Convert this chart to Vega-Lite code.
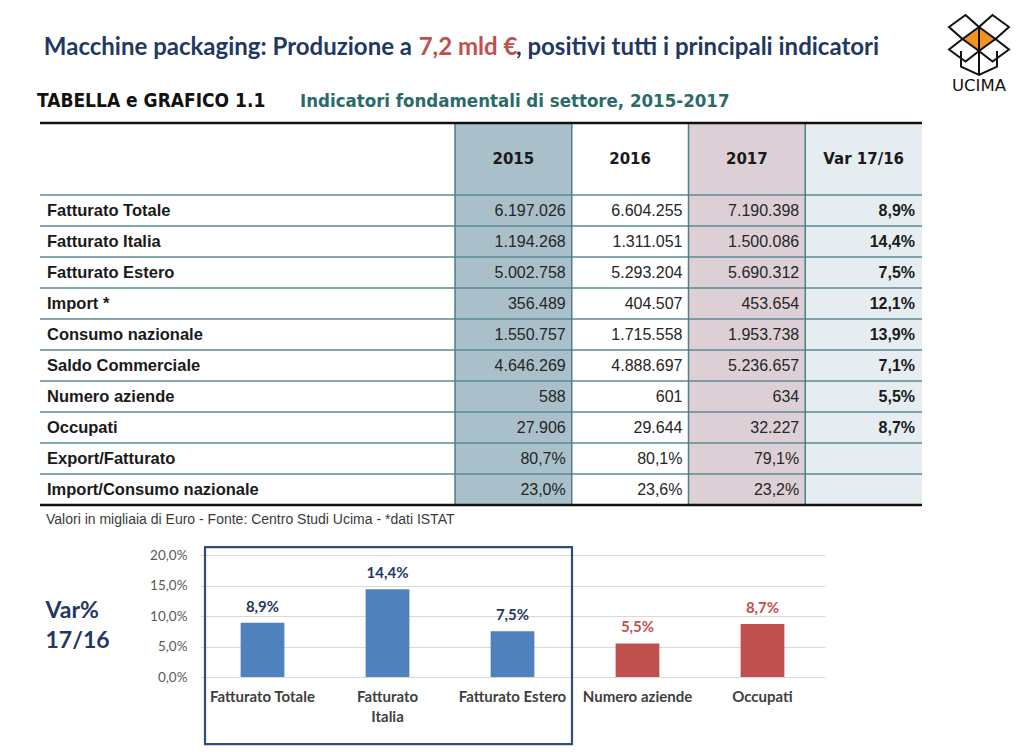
{
  "$schema": "https://vega.github.io/schema/vega-lite/v6.json",
  "width": 1024,
  "height": 752,
  "autosize": {"type": "none"},
  "padding": 0,
  "background": "white",
  "config": {
    "view": {"stroke": null},
    "locale": {"number": {"decimal": ",", "thousands": ".", "grouping": [3], "currency": ["", " €"]}}
  },
  "datasets": {
    "tabella": [
      {"indicatore": "Fatturato Totale", "2015": "6.197.026", "2016": "6.604.255", "2017": "7.190.398", "Var 17/16": "8,9%"},
      {"indicatore": "Fatturato Italia", "2015": "1.194.268", "2016": "1.311.051", "2017": "1.500.086", "Var 17/16": "14,4%"},
      {"indicatore": "Fatturato Estero", "2015": "5.002.758", "2016": "5.293.204", "2017": "5.690.312", "Var 17/16": "7,5%"},
      {"indicatore": "Import *", "2015": "356.489", "2016": "404.507", "2017": "453.654", "Var 17/16": "12,1%"},
      {"indicatore": "Consumo nazionale", "2015": "1.550.757", "2016": "1.715.558", "2017": "1.953.738", "Var 17/16": "13,9%"},
      {"indicatore": "Saldo Commerciale", "2015": "4.646.269", "2016": "4.888.697", "2017": "5.236.657", "Var 17/16": "7,1%"},
      {"indicatore": "Numero aziende", "2015": "588", "2016": "601", "2017": "634", "Var 17/16": "5,5%"},
      {"indicatore": "Occupati", "2015": "27.906", "2016": "29.644", "2017": "32.227", "Var 17/16": "8,7%"},
      {"indicatore": "Export/Fatturato", "2015": "80,7%", "2016": "80,1%", "2017": "79,1%", "Var 17/16": ""},
      {"indicatore": "Import/Consumo nazionale", "2015": "23,0%", "2016": "23,6%", "2017": "23,2%", "Var 17/16": ""}
    ],
    "colonne": [{"colonna": "2015"}, {"colonna": "2016"}, {"colonna": "2017"}, {"colonna": "Var 17/16"}],
    "grafico": [
      {"indicatore": "Fatturato Totale", "variazione": 0.089, "gruppo": "Fatturato"},
      {"indicatore": "Fatturato Italia", "variazione": 0.144, "gruppo": "Fatturato"},
      {"indicatore": "Fatturato Estero", "variazione": 0.075, "gruppo": "Fatturato"},
      {"indicatore": "Numero aziende", "variazione": 0.055, "gruppo": "Struttura"},
      {"indicatore": "Occupati", "variazione": 0.087, "gruppo": "Struttura"}
    ]
  },
  "resolve": {"scale": {"x": "independent", "y": "independent", "color": "independent", "fill": "independent"}},
  "layer": [
    {
      "data": {"name": "colonne"},
      "layer": [
        {
          "mark": {"type": "rect"},
          "encoding": {
            "x": {"field": "colonna", "type": "nominal", "axis": null, "scale": {"type": "band", "domain": ["2015", "2016", "2017", "Var 17/16"], "range": [455, 922], "paddingInner": 0, "paddingOuter": 0}},
            "y": {"datum": "intestazione", "type": "nominal", "axis": null, "scale": {"type": "band", "domain": ["intestazione"], "range": [123, 195], "paddingInner": 0, "paddingOuter": 0}},
            "fill": {"field": "colonna", "type": "nominal", "legend": null, "scale": {"domain": ["2015", "2016", "2017", "Var 17/16"], "range": ["#a9bfc9", "#ffffff", "#dcd0d6", "#e6edf0"]}}
          }
        },
        {
          "mark": {"type": "text", "font": "DejaVu Sans", "fontWeight": "bold", "fontSize": 15, "color": "#1a1a1a", "baseline": "middle"},
          "encoding": {
            "x": {"field": "colonna", "type": "nominal", "axis": null, "scale": {"type": "band", "domain": ["2015", "2016", "2017", "Var 17/16"], "range": [455, 922], "paddingInner": 0, "paddingOuter": 0}},
            "y": {"datum": "intestazione", "type": "nominal", "axis": null, "scale": {"type": "band", "domain": ["intestazione"], "range": [123, 195], "paddingInner": 0, "paddingOuter": 0}},
            "text": {"field": "colonna"}
          }
        }
      ]
    },
    {
      "data": {"name": "tabella"},
      "transform": [{"fold": ["2015", "2016", "2017", "Var 17/16"], "as": ["colonna", "valore"]}],
      "layer": [
        {
          "mark": {"type": "rect"},
          "encoding": {
            "x": {"field": "colonna", "type": "nominal", "axis": null, "scale": {"type": "band", "domain": ["2015", "2016", "2017", "Var 17/16"], "range": [455, 922], "paddingInner": 0, "paddingOuter": 0}},
            "y": {"field": "indicatore", "type": "nominal", "axis": null, "scale": {"type": "band", "domain": ["Fatturato Totale", "Fatturato Italia", "Fatturato Estero", "Import *", "Consumo nazionale", "Saldo Commerciale", "Numero aziende", "Occupati", "Export/Fatturato", "Import/Consumo nazionale"], "range": [195, 505], "paddingInner": 0, "paddingOuter": 0}},
            "fill": {"field": "colonna", "type": "nominal", "legend": null, "scale": {"domain": ["2015", "2016", "2017", "Var 17/16"], "range": ["#a9bfc9", "#ffffff", "#dcd0d6", "#e6edf0"]}}
          }
        },
        {
          "transform": [{"filter": "datum.colonna !== 'Var 17/16'"}],
          "mark": {"type": "text", "align": "right", "baseline": "middle", "dx": -6, "font": "Liberation Sans", "fontSize": 16, "color": "#262626"},
          "encoding": {
            "x": {"field": "colonna", "type": "nominal", "bandPosition": 1, "axis": null, "scale": {"type": "band", "domain": ["2015", "2016", "2017", "Var 17/16"], "range": [455, 922], "paddingInner": 0, "paddingOuter": 0}},
            "y": {"field": "indicatore", "type": "nominal", "axis": null, "scale": {"type": "band", "domain": ["Fatturato Totale", "Fatturato Italia", "Fatturato Estero", "Import *", "Consumo nazionale", "Saldo Commerciale", "Numero aziende", "Occupati", "Export/Fatturato", "Import/Consumo nazionale"], "range": [195, 505], "paddingInner": 0, "paddingOuter": 0}},
            "text": {"field": "valore"}
          }
        },
        {
          "transform": [{"filter": "datum.colonna === 'Var 17/16'"}],
          "mark": {"type": "text", "align": "right", "baseline": "middle", "dx": -7, "font": "Liberation Sans", "fontWeight": "bold", "fontSize": 16, "color": "#1a1a1a"},
          "encoding": {
            "x": {"field": "colonna", "type": "nominal", "bandPosition": 1, "axis": null, "scale": {"type": "band", "domain": ["2015", "2016", "2017", "Var 17/16"], "range": [455, 922], "paddingInner": 0, "paddingOuter": 0}},
            "y": {"field": "indicatore", "type": "nominal", "axis": null, "scale": {"type": "band", "domain": ["Fatturato Totale", "Fatturato Italia", "Fatturato Estero", "Import *", "Consumo nazionale", "Saldo Commerciale", "Numero aziende", "Occupati", "Export/Fatturato", "Import/Consumo nazionale"], "range": [195, 505], "paddingInner": 0, "paddingOuter": 0}},
            "text": {"field": "valore"}
          }
        }
      ]
    },
    {
      "data": {"name": "tabella"},
      "layer": [
        {
          "mark": {"type": "rule", "color": "#5b8993", "strokeWidth": 1.3},
          "encoding": {
            "x": {"datum": 0, "type": "quantitative", "axis": null, "scale": {"domain": [0, 1], "range": [40, 922]}},
            "x2": {"datum": 1},
            "y": {"field": "indicatore", "type": "nominal", "bandPosition": 0, "axis": null, "scale": {"type": "band", "domain": ["Fatturato Totale", "Fatturato Italia", "Fatturato Estero", "Import *", "Consumo nazionale", "Saldo Commerciale", "Numero aziende", "Occupati", "Export/Fatturato", "Import/Consumo nazionale"], "range": [195, 505], "paddingInner": 0, "paddingOuter": 0}}
          }
        },
        {
          "mark": {"type": "text", "align": "left", "baseline": "middle", "dx": 7, "font": "Liberation Sans", "fontWeight": "bold", "fontSize": 16.5, "color": "#1a1a1a"},
          "encoding": {
            "x": {"datum": 0, "type": "quantitative", "axis": null, "scale": {"domain": [0, 1], "range": [40, 922]}},
            "y": {"field": "indicatore", "type": "nominal", "axis": null, "scale": {"type": "band", "domain": ["Fatturato Totale", "Fatturato Italia", "Fatturato Estero", "Import *", "Consumo nazionale", "Saldo Commerciale", "Numero aziende", "Occupati", "Export/Fatturato", "Import/Consumo nazionale"], "range": [195, 505], "paddingInner": 0, "paddingOuter": 0}},
            "text": {"field": "indicatore"}
          }
        }
      ]
    },
    {
      "data": {"name": "colonne"},
      "mark": {"type": "rule", "color": "#4f7d88", "strokeWidth": 1.5},
      "encoding": {
        "x": {"field": "colonna", "type": "nominal", "bandPosition": 0, "axis": null, "scale": {"type": "band", "domain": ["2015", "2016", "2017", "Var 17/16"], "range": [455, 922], "paddingInner": 0, "paddingOuter": 0}},
        "y": {"datum": 0, "type": "quantitative", "axis": null, "scale": {"domain": [0, 1], "range": [123, 505]}},
        "y2": {"datum": 1}
      }
    },
    {
      "data": {"values": [{"nota": "Valori in migliaia di Euro - Fonte: Centro Studi Ucima - *dati ISTAT"}]},
      "layer": [
        {
          "mark": {"type": "rule", "color": "#111111", "strokeWidth": 2.5},
          "encoding": {
            "x": {"datum": 0, "type": "quantitative", "axis": null, "scale": {"domain": [0, 1], "range": [40, 922]}},
            "x2": {"datum": 1},
            "y": {"datum": 0, "type": "quantitative", "axis": null, "scale": {"domain": [0, 1], "range": [123, 505]}}
          }
        },
        {
          "mark": {"type": "rule", "color": "#111111", "strokeWidth": 2.5},
          "encoding": {
            "x": {"datum": 0, "type": "quantitative", "axis": null, "scale": {"domain": [0, 1], "range": [40, 922]}},
            "x2": {"datum": 1},
            "y": {"datum": 1, "type": "quantitative", "axis": null, "scale": {"domain": [0, 1], "range": [123, 505]}}
          }
        },
        {
          "mark": {"type": "text", "align": "left", "baseline": "middle", "dx": 6, "dy": 15, "font": "Liberation Sans", "fontSize": 14, "color": "#3a3a3a"},
          "encoding": {
            "x": {"datum": 0, "type": "quantitative", "axis": null, "scale": {"domain": [0, 1], "range": [40, 922]}},
            "y": {"datum": 1, "type": "quantitative", "axis": null, "scale": {"domain": [0, 1], "range": [123, 505]}},
            "text": {"field": "nota"}
          }
        }
      ]
    },
    {
      "data": {"values": [
        {"parte": "inizio", "testo": "Macchine packaging: Produzione a"},
        {"parte": "evidenza", "testo": "7,2 mld €"},
        {"parte": "fine", "testo": ", positivi tutti i principali indicatori"}
      ]},
      "layer": [
        {
          "transform": [{"filter": "datum.parte === 'inizio'"}],
          "mark": {"type": "text", "align": "right", "baseline": "middle", "font": "Lato", "fontWeight": "bold", "fontSize": 24},
          "encoding": {
            "x": {"field": "parte", "type": "nominal", "axis": null, "scale": {"type": "point", "domain": ["inizio", "evidenza", "fine"], "range": [412, 516], "padding": 0}},
            "y": {"datum": "titolo", "type": "nominal", "axis": null, "scale": {"type": "point", "domain": ["titolo"], "range": [48, 48]}},
            "color": {"field": "parte", "type": "nominal", "legend": null, "scale": {"domain": ["inizio", "evidenza", "fine"], "range": ["#1f3864", "#c0504d", "#1f3864"]}},
            "text": {"field": "testo"}
          }
        },
        {
          "transform": [{"filter": "datum.parte === 'evidenza'"}],
          "mark": {"type": "text", "align": "center", "baseline": "middle", "dx": 4, "font": "Lato", "fontWeight": "bold", "fontSize": 24},
          "encoding": {
            "x": {"field": "parte", "type": "nominal", "axis": null, "scale": {"type": "point", "domain": ["inizio", "evidenza", "fine"], "range": [412, 516], "padding": 0}},
            "y": {"datum": "titolo", "type": "nominal", "axis": null, "scale": {"type": "point", "domain": ["titolo"], "range": [48, 48]}},
            "color": {"field": "parte", "type": "nominal", "legend": null, "scale": {"domain": ["inizio", "evidenza", "fine"], "range": ["#1f3864", "#c0504d", "#1f3864"]}},
            "text": {"field": "testo"}
          }
        },
        {
          "transform": [{"filter": "datum.parte === 'fine'"}],
          "mark": {"type": "text", "align": "left", "baseline": "middle", "font": "Lato", "fontWeight": "bold", "fontSize": 24},
          "encoding": {
            "x": {"field": "parte", "type": "nominal", "axis": null, "scale": {"type": "point", "domain": ["inizio", "evidenza", "fine"], "range": [412, 516], "padding": 0}},
            "y": {"datum": "titolo", "type": "nominal", "axis": null, "scale": {"type": "point", "domain": ["titolo"], "range": [48, 48]}},
            "color": {"field": "parte", "type": "nominal", "legend": null, "scale": {"domain": ["inizio", "evidenza", "fine"], "range": ["#1f3864", "#c0504d", "#1f3864"]}},
            "text": {"field": "testo"}
          }
        }
      ]
    },
    {
      "data": {"values": [
        {"parte": "numero", "testo": "TABELLA e GRAFICO 1.1"},
        {"parte": "descrizione", "testo": "Indicatori fondamentali di settore, 2015-2017"}
      ]},
      "layer": [
        {
          "transform": [{"filter": "datum.parte === 'numero'"}],
          "mark": {"type": "text", "align": "left", "baseline": "middle", "font": "DejaVu Sans Condensed", "fontWeight": "bold", "fontSize": 19, "color": "#111111"},
          "encoding": {
            "x": {"field": "parte", "type": "nominal", "axis": null, "scale": {"type": "point", "domain": ["numero", "descrizione"], "range": [37, 300], "padding": 0}},
            "y": {"datum": "didascalia", "type": "nominal", "axis": null, "scale": {"type": "point", "domain": ["didascalia"], "range": [101, 101]}},
            "text": {"field": "testo"}
          }
        },
        {
          "transform": [{"filter": "datum.parte === 'descrizione'"}],
          "mark": {"type": "text", "align": "left", "baseline": "middle", "font": "DejaVu Sans Condensed", "fontWeight": "bold", "fontSize": 18.5, "color": "#2b6a6a"},
          "encoding": {
            "x": {"field": "parte", "type": "nominal", "axis": null, "scale": {"type": "point", "domain": ["numero", "descrizione"], "range": [37, 300], "padding": 0}},
            "y": {"datum": "didascalia", "type": "nominal", "axis": null, "scale": {"type": "point", "domain": ["didascalia"], "range": [101, 101]}},
            "text": {"field": "testo"}
          }
        }
      ]
    },
    {
      "data": {"values": [{"marchio": "UCIMA"}]},
      "layer": [
        {
          "mark": {"type": "point", "shape": "M 0 -0.6 L 0.55 -0.2 L 0 0.2 L -0.55 -0.2 Z", "size": 3600, "filled": true, "fill": "#f0931f", "strokeWidth": 0, "opacity": 1},
          "encoding": {
            "x": {"field": "marchio", "type": "nominal", "axis": null, "scale": {"type": "point", "domain": ["UCIMA"], "range": [979, 979]}},
            "y": {"datum": "simbolo", "type": "nominal", "axis": null, "scale": {"type": "point", "domain": ["simbolo", "scritta"], "range": [45, 86], "padding": 0}}
          }
        },
        {
          "mark": {"type": "point", "shape": "M -0.55 -0.2 L -1 -0.6 L -0.45 -1 L 0 -0.6 Z M 0.55 -0.2 L 1 -0.6 L 0.45 -1 L 0 -0.6 Z M -0.55 -0.2 L -1 0.15 L -0.45 0.55 L 0 0.2 Z M 0.55 -0.2 L 1 0.15 L 0.45 0.55 L 0 0.2 Z M -0.6 0.2 L -0.6 0.72 L 0 1 L 0.6 0.72 L 0.6 0.2 M 0 -0.6 L 0 1", "size": 3600, "filled": false, "stroke": "#111111", "strokeWidth": 2, "opacity": 1},
          "encoding": {
            "x": {"field": "marchio", "type": "nominal", "axis": null, "scale": {"type": "point", "domain": ["UCIMA"], "range": [979, 979]}},
            "y": {"datum": "simbolo", "type": "nominal", "axis": null, "scale": {"type": "point", "domain": ["simbolo", "scritta"], "range": [45, 86], "padding": 0}}
          }
        },
        {
          "mark": {"type": "text", "align": "center", "baseline": "middle", "font": "DejaVu Sans", "fontSize": 16.5, "color": "#111111"},
          "encoding": {
            "x": {"field": "marchio", "type": "nominal", "axis": null, "scale": {"type": "point", "domain": ["UCIMA"], "range": [979, 979]}},
            "y": {"datum": "scritta", "type": "nominal", "axis": null, "scale": {"type": "point", "domain": ["simbolo", "scritta"], "range": [45, 86], "padding": 0}},
            "text": {"field": "marchio"}
          }
        }
      ]
    },
    {
      "data": {"name": "grafico"},
      "layer": [
        {
          "mark": {"type": "bar"},
          "encoding": {
            "x": {
              "field": "indicatore", "type": "nominal", "sort": null,
              "scale": {"type": "band", "domain": ["Fatturato Totale", "Fatturato Italia", "Fatturato Estero", "Numero aziende", "Occupati"], "range": [200, 825], "paddingInner": 0.65, "paddingOuter": 0.325},
              "axis": {
                "orient": "bottom", "offset": -75, "domain": false, "ticks": false, "tickSize": 0, "title": null,
                "labelAngle": 0, "labelPadding": 12, "labelFont": "Lato", "labelFontSize": 15, "labelFontWeight": "bold", "labelColor": "#404040",
                "labelLimit": 0, "labelLineHeight": 20,
                "labelExpr": "datum.label == 'Fatturato Italia' ? ['Fatturato', 'Italia'] : datum.label"
              }
            },
            "y": {
              "field": "variazione", "type": "quantitative",
              "scale": {"domain": [0, 0.2], "range": [677, 555], "nice": false, "zero": true},
              "axis": {
                "orient": "left", "offset": -200, "values": [0, 0.05, 0.1, 0.15, 0.2], "format": ".1%",
                "domain": false, "ticks": false, "tickSize": 0, "grid": true, "gridColor": "#d9d9d9", "gridWidth": 1,
                "labelFont": "Lato", "labelFontSize": 13.5, "labelColor": "#595959", "labelPadding": 13,
                "title": ["Var%", "17/16"], "titleAngle": 0, "titleFont": "Lato", "titleFontSize": 23, "titleFontWeight": "bold",
                "titleColor": "#1f3864", "titleAlign": "left", "titleBaseline": "middle", "titleX": -155, "titleY": 610, "titleLineHeight": 30
              }
            },
            "fill": {"field": "gruppo", "type": "nominal", "legend": null, "scale": {"domain": ["Fatturato", "Struttura"], "range": ["#4f81bd", "#c0504d"]}}
          }
        },
        {
          "mark": {"type": "text", "baseline": "alphabetic", "dy": -11, "font": "Lato", "fontWeight": "bold", "fontSize": 15},
          "encoding": {
            "x": {"field": "indicatore", "type": "nominal", "sort": null},
            "y": {"field": "variazione", "type": "quantitative"},
            "text": {"field": "variazione", "type": "quantitative", "format": ".1%"},
            "color": {"field": "gruppo", "type": "nominal", "legend": null, "scale": {"domain": ["Fatturato", "Struttura"], "range": ["#1f3864", "#c0504d"]}}
          }
        },
        {
          "data": {"values": [{"gruppo": "Fatturato"}]},
          "mark": {"type": "rect", "fill": "transparent", "stroke": "#2f4c7e", "strokeWidth": 2.2, "xOffset": -57.5, "x2Offset": 59.5},
          "encoding": {
            "x": {"datum": "Fatturato Totale", "type": "nominal"},
            "x2": {"datum": "Fatturato Estero"},
            "y": {"datum": 0.213, "type": "quantitative"},
            "y2": {"datum": -0.11}
          }
        }
      ]
    }
  ]
}
